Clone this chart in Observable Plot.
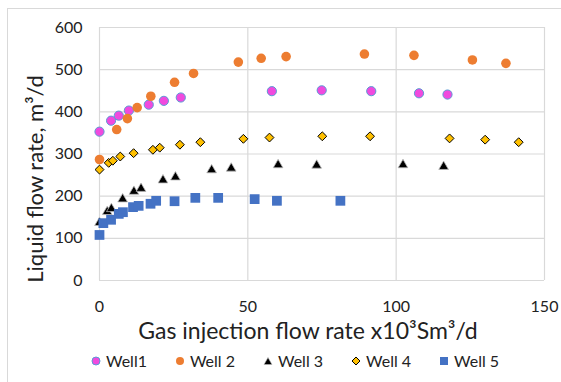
<!DOCTYPE html>
<html>
<head>
<meta charset="utf-8">
<script src="https://cdn.jsdelivr.net/npm/d3@7"></script>
<script src="https://cdn.jsdelivr.net/npm/@observablehq/plot@0.6"></script>
<style>
  html, body { margin: 0; padding: 0; background: #fff; overflow: hidden; }
  #wrap { position: relative; width: 561px; height: 382px; font-family: Lato, sans-serif; }
  #border { position: absolute; left: 7px; top: 8px; width: 620px; height: 420px; border: 1.5px solid #d9d9d9; box-sizing: border-box; }
  #chart { position: absolute; left: 0; top: 0; }
  #legend { position: absolute; left: 91px; top: 351px; display: flex; gap: 28px; font-size: 16px; color: #222; align-items: center; }
  #legend .item { display: flex; align-items: center; gap: 5px; }
  #legend svg { display: block; }
</style>
</head>
<body>
<div id="wrap">
  <div id="border"></div>
  <div id="chart"></div>
  <div id="legend"></div>
</div>
<script>
// Data
const seriesNames = ["Well1", "Well 2", "Well 3", "Well 4", "Well 5"];
const xTicks = [0, 50, 100, 150];
const yTicks = [0, 100, 200, 300, 400, 500, 600];

const well1X = [0, 3.9, 6.5, 9.9, 16.6, 21.7, 27.4, 58.1, 74.9, 91.6, 107.7, 117.3];
const well1Y = [353, 379, 391, 403, 417, 426, 434, 449, 451, 449, 444, 441];

const well2X = [0, 5.8, 9.4, 12.7, 17.3, 25.3, 31.7, 46.8, 54.5, 62.9, 89.3, 106, 125.7, 137];
const well2Y = [287, 358, 384, 410, 437, 470, 491, 518, 527, 531, 537, 534, 523, 515];

const well3X = [0, 2.6, 4, 7.8, 11.6, 14, 21.4, 25.6, 37.8, 44.4, 60.2, 73.2, 102.3, 116];
const well3Y = [137, 163, 170, 193, 211, 218, 238, 245, 262, 266, 274, 273, 274, 270];

const well4X = [0, 3.1, 4.5, 7, 11.5, 18, 20.3, 27.1, 34, 48.5, 57.3, 75.1, 91.2, 118, 130, 141.3];
const well4Y = [263, 279, 284, 294, 302, 310, 315, 322, 328, 336, 339, 342, 342, 337, 334, 328];

const well5X = [0, 1.3, 3.9, 6.5, 7.9, 11.3, 13.2, 17.2, 19.1, 25.3, 32.3, 40, 52.3, 59.8, 81.2];
const well5Y = [108, 136, 144, 158, 162, 174, 177, 182, 189, 188, 196, 196, 193, 189, 189];

const xLabel = "Gas injection flow rate x10³Sm³/d";
const yLabel = "Liquid flow rate, m³/d";

const colors = {
  w1: "#f04ade", w1s: "#5b9bd5",
  w2: "#ed7d31",
  w3: "#000000",
  w4: "#ffc000",
  w5: "#4472c4"
};

const grid = "#d9d9d9";

const chart = Plot.plot({
  width: 561,
  height: 345,
  marginLeft: 99,
  marginRight: 17,
  marginTop: 27,
  marginBottom: 65,
  style: { fontFamily: "Lato, sans-serif", fontSize: "16px", color: "#222", background: "transparent", overflow: "visible" },
  x: { domain: [0, 150] },
  y: { domain: [0, 600] },
  marks: [
    Plot.gridX(xTicks, { stroke: grid, strokeOpacity: 1, strokeWidth: 1.2 }),
    Plot.gridY(yTicks, { stroke: grid, strokeOpacity: 1, strokeWidth: 1.2 }),
    Plot.axisX(xTicks, { tickSize: 0, tickPadding: 20, label: null, fontSize: 16 }),
    Plot.axisY(yTicks, { tickSize: 0, tickPadding: 17, label: null, fontSize: 16 }),
    Plot.text([yLabel], { frameAnchor: "left", textAnchor: "middle", lineAnchor: "middle", rotate: -90, dx: -64, dy: 25, fontSize: 22, fill: "#222" }),
    Plot.text([xLabel], { frameAnchor: "bottom", textAnchor: "middle", lineAnchor: "middle", dx: -14, dy: 51, fontSize: 23, fill: "#222" }),
    Plot.dot(well1X, { x: well1X, y: well1Y, r: 4.6, fill: colors.w1, stroke: colors.w1s, strokeWidth: 1 }),
    Plot.dot(well2X, { x: well2X, y: well2Y, r: 4.8, fill: colors.w2 }),
    Plot.dot(well3X, { x: well3X, y: well3Y, r: 3.6, symbol: "triangle", fill: colors.w3, stroke: "#bbbbbb", strokeWidth: 0.8 }),
    Plot.dot(well4X, { x: well4X, y: well4Y, r: 4, symbol: "diamond2", fill: colors.w4, stroke: "#000", strokeWidth: 1 }),
    Plot.dot(well5X, { x: well5X, y: well5Y, r: 5.5, symbol: "square", fill: colors.w5 })
  ]
});
document.getElementById("chart").appendChild(chart);

// Legend
const legendSymbols = [
  `<svg width="10" height="10"><circle cx="5" cy="5" r="4" fill="${colors.w1}" stroke="${colors.w1s}" stroke-width="1"/></svg>`,
  `<svg width="10" height="10"><circle cx="5" cy="5" r="4" fill="${colors.w2}"/></svg>`,
  `<svg width="10" height="10"><path d="M5,1.5 L9,8.5 L1,8.5 Z" fill="#000" stroke="#bbb" stroke-width="0.6"/></svg>`,
  `<svg width="10" height="10"><path d="M5,1 L9,5 L5,9 L1,5 Z" fill="${colors.w4}" stroke="#000" stroke-width="1"/></svg>`,
  `<svg width="10" height="10"><rect x="1" y="1" width="8" height="8" fill="${colors.w5}"/></svg>`
];
const legend = document.getElementById("legend");
seriesNames.forEach((name, i) => {
  const item = document.createElement("div");
  item.className = "item";
  item.innerHTML = legendSymbols[i] + `<span>${name}</span>`;
  legend.appendChild(item);
});
</script>
</body>
</html>
